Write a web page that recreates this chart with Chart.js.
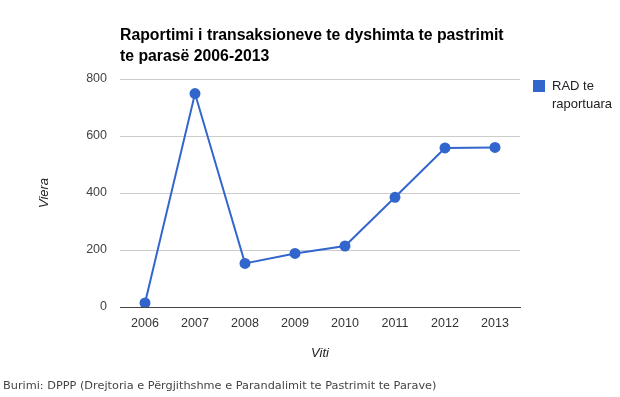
<!DOCTYPE html>
<html>
<head>
<meta charset="utf-8">
<script src="https://cdn.jsdelivr.net/npm/chart.js@4/dist/chart.umd.min.js"></script>
<style>
  html, body { margin:0; padding:0; background:#fff; }
  #wrap { position:relative; width:620px; height:397px; overflow:hidden; }
  #c { position:absolute; left:0; top:0; }
  #legend { position:absolute; left:533px; top:77px; font:13px "Liberation Sans", Arial, sans-serif; color:#222; }
  #legend .sw { position:absolute; left:0; top:3px; width:12px; height:12px; background:#3366cc; }
  #legend .tx { position:absolute; left:19px; top:0; width:80px; line-height:18px; }
  #source { position:absolute; left:3px; top:378px; font:11.3px "DejaVu Sans", Verdana, sans-serif; line-height:16px; color:#444; white-space:nowrap; }
</style>
</head>
<body>
<div id="wrap">
  <canvas id="c" width="620" height="397"></canvas>
  <div id="legend"><div class="sw"></div><div class="tx"></div></div>
  <div id="source"></div>
</div>
<script>
const titleLines = ["Raportimi i transaksioneve te dyshimta te pastrimit", "te parasë 2006-2013"];
const years = ["2006","2007","2008","2009","2010","2011","2012","2013"];
const seriesLabel = "RAD te raportuara";
const seriesValues = [14, 749, 153, 188, 214, 385, 558, 560];
const yTicks = [0, 200, 400, 600, 800];
const yTitle = "Viera";
const xTitle = "Viti";
const sourceText = "Burimi: DPPP (Drejtoria e Përgjithshme e Parandalimit te Pastrimit te Parave)";

document.querySelector('#legend .tx').textContent = seriesLabel;
document.getElementById('source').textContent = sourceText;

const FONT = '"Liberation Sans", Arial, sans-serif';

const titlePlugin = {
  id: 'leftTitle',
  afterDraw(chart) {
    const ctx = chart.ctx;
    ctx.save();
    ctx.fillStyle = '#000';
    ctx.font = 'bold 15.8px ' + FONT;
    ctx.textBaseline = 'alphabetic';
    ctx.textAlign = 'left';
    const x = chart.chartArea.left;
    ctx.fillText(titleLines[0], x, 40);
    ctx.fillText(titleLines[1], x, 61);
    ctx.restore();
  }
};

new Chart(document.getElementById('c'), {
  type: 'line',
  data: {
    labels: years,
    datasets: [{
      label: seriesLabel,
      data: seriesValues,
      borderColor: '#3366cc',
      backgroundColor: '#3366cc',
      borderWidth: 2,
      pointRadius: 4.5,
      pointHoverRadius: 4.5,
      tension: 0
    }]
  },
  options: {
    responsive: false,
    animation: false,
    devicePixelRatio: 1,
    layout: { padding: { left: 0, right: 100, top: 79, bottom: 30 } },
    plugins: { legend: { display: false }, tooltip: { enabled: false }, title: { display: false } },
    scales: {
      x: {
        offset: true,
        grid: { display: false, drawTicks: false },
        border: { display: true, color: '#444', width: 1 },
        ticks: { color: '#333', font: { family: FONT, size: 12.5 }, padding: 9, maxRotation: 0 },
        title: { display: true, text: xTitle, color: '#222', font: { family: FONT, size: 13, style: 'italic' }, padding: { top: 0, bottom: 6 } },
        afterFit(s) { s.height = 60; }
      },
      y: {
        min: 0, max: 800,
        afterBuildTicks(s) { s.ticks = yTicks.map(v => ({ value: v })); },
        grid: { drawTicks: false, color: ctx => (ctx.tick && ctx.tick.value === 0) ? 'rgba(0,0,0,0)' : '#cccccc', lineWidth: 1 },
        border: { display: false },
        ticks: { color: '#444', font: { family: FONT, size: 12.5 }, padding: 13 },
        title: { display: true, text: yTitle, color: '#222', font: { family: FONT, size: 13, style: 'italic' }, padding: { top: 37, bottom: 0 } },
        afterFit(s) { s.width = 120; }
      }
    }
  },
  plugins: [titlePlugin]
});
</script>
</body>
</html>
